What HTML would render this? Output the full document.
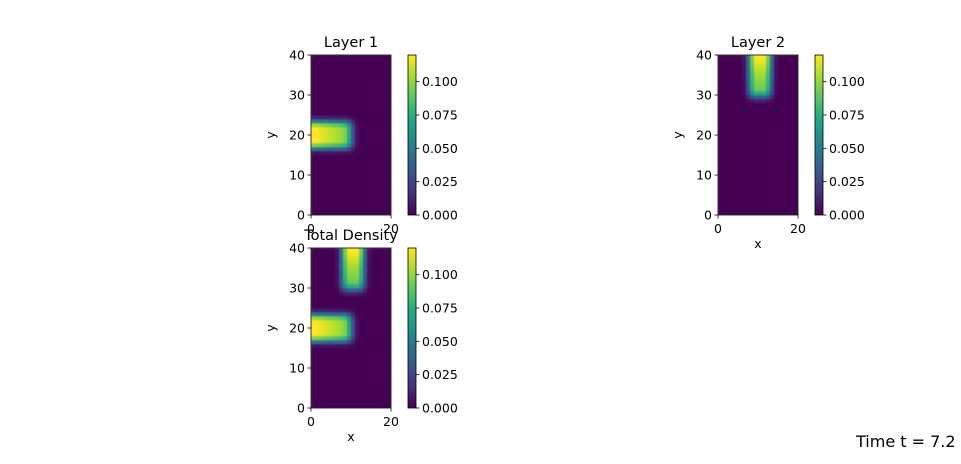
<!DOCTYPE html>
<html><head><meta charset="utf-8"><style>
body{margin:0;background:#fff;}
svg text{font-family:"DejaVu Sans","Liberation Sans",sans-serif;fill:#000;}
</style></head><body>
<svg id="fig" width="961" height="459" xmlns="http://www.w3.org/2000/svg">
<defs><linearGradient id="vir" x1="0" y1="1" x2="0" y2="0">
<stop offset="0" stop-color="#440154"/><stop offset="0.125" stop-color="#472d7b"/><stop offset="0.25" stop-color="#3b528b"/><stop offset="0.375" stop-color="#2c728e"/><stop offset="0.5" stop-color="#21918c"/><stop offset="0.625" stop-color="#28ae80"/><stop offset="0.75" stop-color="#5ec962"/><stop offset="0.875" stop-color="#addc30"/><stop offset="1" stop-color="#fde725"/></linearGradient></defs>
<text x="856" y="447" font-size="16">Time t = 7.2</text>
</svg>
<script>
const NX=20, NY=40, VMAX=0.12;
const layer1X=[1.0,1.0,0.97,0.95,0.92,0.9,0.88,0.85,0.8,0.6,0.25,0.05,0,0,0,0,0,0,0,0];
const layer1Y={15:0.05,16:0.35,17:0.8,18:1,19:1,20:1,21:1,22:0.85,23:0.4,24:0.08};
const layer2X={6:0.05,7:0.35,8:0.8,9:1,10:1,11:1,12:0.8,13:0.35,14:0.05};
const layer2Y={28:0.08,29:0.3,30:0.62,31:0.76,32:0.8,33:0.82,34:0.84,35:0.87,36:0.9,37:0.94,38:0.98,39:1};
const cbTicks=[0,0.025,0.05,0.075,0.1];
const yTicks=[0,10,20,30,40], xTicks=[0,20];
const NS="http://www.w3.org/2000/svg";
const svg=document.getElementById('fig');
const vstops=[[68,1,84],[72,40,120],[62,74,137],[49,104,142],[38,130,142],[31,158,137],[53,183,121],[109,205,89],[180,222,44],[253,231,37]];
function viridis(t){t=Math.max(0,Math.min(1,t))*9;const i=Math.min(8,Math.floor(t)),f=t-i;const a=vstops[i],b=vstops[i+1];return `rgb(${a.map((v,k)=>Math.round(v+(b[k]-v)*f)).join(',')})`;}
function l1(i,j){return VMAX*layer1X[i]*(layer1Y[j]||0);}
function l2(i,j){return VMAX*(layer2X[i]||0)*(layer2Y[j]||0);}
function mk(tag,attrs,parent){const e=document.createElementNS(NS,tag);for(const k in attrs)e.setAttribute(k,attrs[k]);(parent||svg).appendChild(e);return e;}
function panel(name,x0,y0,fn,title,xlabel){
  const W=80,H=160;
  const g=mk('g',{});
  
  
  const sx=v=>x0+v/NX*W, sy=v=>y0+H-v/NY*H;
  const hm=mk('g',{style:'filter:blur(0.8px)'},g);
  for(let i=0;i<NX;i++)for(let j=0;j<NY;j++){
    const r=mk('rect',{x:sx(i),y:sy(j+1),width:W/NX+0.3,height:H/NY+0.3,fill:viridis(fn(i,j)/VMAX)},hm);
    
    
  }
  const clip='clip'+name; const cp=mk('clipPath',{id:clip},g); mk('rect',{x:x0,y:y0,width:W,height:H},cp);
  hm.setAttribute('clip-path',`url(#${clip})`);
  mk('rect',{x:x0,y:y0,width:W,height:H,fill:'none',stroke:'#000','stroke-width':0.8},g);
  yTicks.forEach(v=>{mk('line',{x1:x0-3.5,x2:x0,y1:sy(v),y2:sy(v),stroke:'#000','stroke-width':0.8},g);
    const t=mk('text',{x:x0-6,y:sy(v)+4.5,'font-size':12.5,'text-anchor':'end'},g);t.textContent=v;
    
    });
  xTicks.forEach(v=>{mk('line',{x1:sx(v),x2:sx(v),y1:y0+H,y2:y0+H+3.5,stroke:'#000','stroke-width':0.8},g);
    const t=mk('text',{x:sx(v),y:y0+H+18,'font-size':12.5,'text-anchor':'middle'},g);t.textContent=v;
    
    });
  const yl=mk('text',{x:0,y:0,'font-size':12.5,'text-anchor':'middle',transform:`translate(${x0-36},${y0+H/2}) rotate(-90)`},g);yl.textContent='y';
  
  
  if(xlabel){const xl=mk('text',{x:x0+W/2,y:y0+H+33,'font-size':12.5,'text-anchor':'middle'},g);xl.textContent='x';
    
    }
  const tt=mk('text',{x:x0+W/2,y:y0-8,'font-size':14.5,'text-anchor':'middle'},g);tt.textContent=title;
  
  
  const cx=x0+97;
  const cb=mk('rect',{x:cx,y:y0,width:8,height:H,fill:'url(#vir)',stroke:'#000','stroke-width':0.8},g);
  
  
  const cy=v=>y0+H-v/VMAX*H;
  cbTicks.forEach(v=>{mk('line',{x1:cx+8,x2:cx+11.5,y1:cy(v),y2:cy(v),stroke:'#000','stroke-width':0.8},g);
    const t=mk('text',{x:cx+14,y:cy(v)+4.5,'font-size':12.5},g);t.textContent=v.toFixed(3);
    
    });
}
panel('layer-1-panel',311,55,l1,'Layer 1',false);
panel('layer-2-panel',718,55,l2,'Layer 2',true);
panel('total-density-panel',311,248,(i,j)=>l1(i,j)+l2(i,j),'Total Density',true);
</script>
</body></html>
